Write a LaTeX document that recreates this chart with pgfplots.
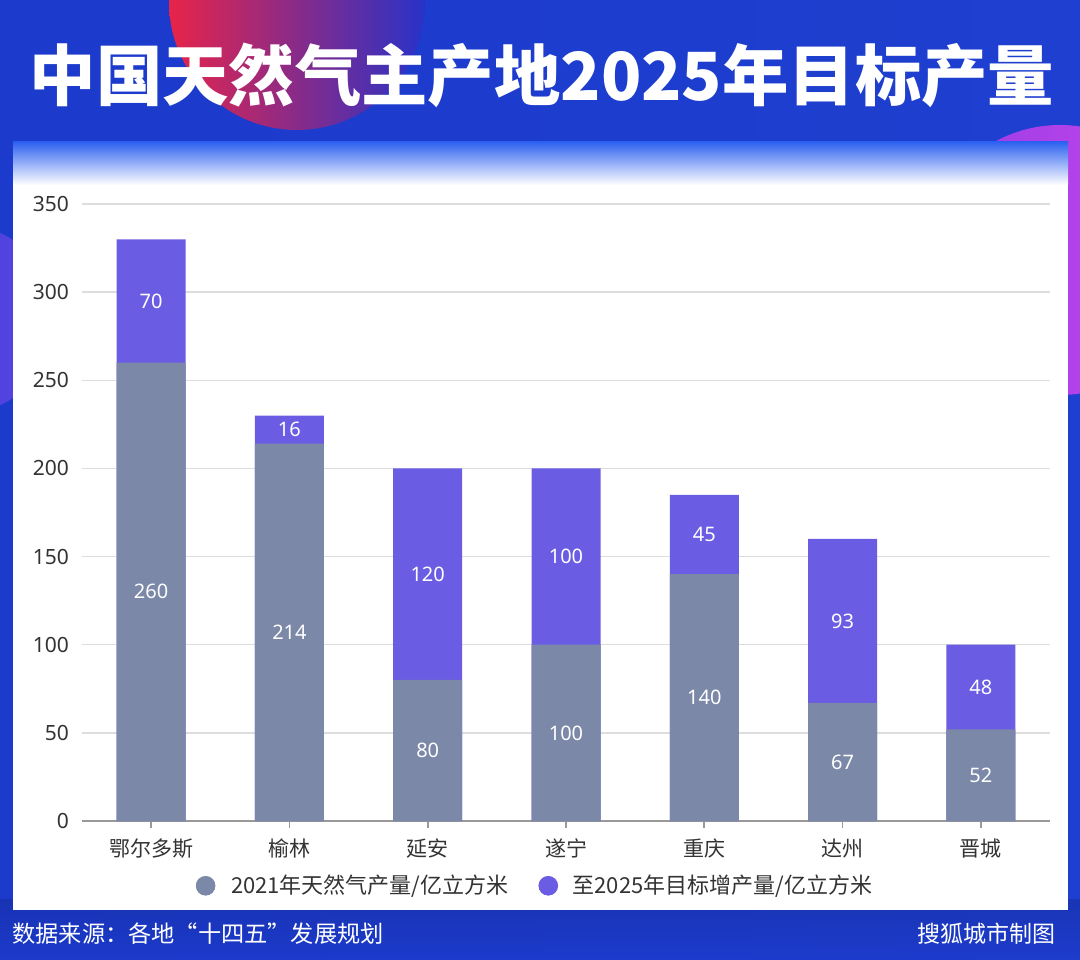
\documentclass[border=0pt]{standalone}
\usepackage{fontspec}
\setmainfont{Noto Sans CJK SC}
\newfontfamily\numfont{Noto Sans}
\usepackage{pgfplots}
\pgfplotsset{compat=1.18}
\usepackage{pgfplotstable}
\definecolor{barA}{HTML}{7B88A8}
\definecolor{barB}{HTML}{6A5CE3}
\definecolor{gridc}{HTML}{DDDDDD}
\definecolor{txt}{HTML}{333333}
\definecolor{bgL}{HTML}{1C3ACC}
\definecolor{bgM}{HTML}{2A5FEA}
\definecolor{bgR}{HTML}{1E3FCF}
\definecolor{panelTop}{HTML}{2E62F0}
\pgfplotstableread{
x base add total
0 260 70 330
1 214 16 230
2 80 120 200
3 100 100 200
4 140 45 185
5 67 93 160
6 52 48 100
}\data
\begin{document}
\begin{tikzpicture}[x=0.5pt,y=0.5pt]
\useasboundingbox (0,0) rectangle (1080,959);
\begin{scope}
\clip (0,0) rectangle (1080,959);
\shade[left color=bgL, middle color=bgM, right color=bgR] (0,0) rectangle (1080,959);
\shade[top color=bgL!80!black, bottom color=bgL, opacity=0.6] (0,0) rectangle (1080,60);
\shade[left color={rgb,255:red,232;green,36;blue,74}, right color={rgb,255:red,40;green,50;blue,200}] (297,957) circle (128);
\shade[left color={rgb,255:red,150;green,60;blue,230}, right color={rgb,255:red,200;green,70;blue,235}] (1060,699) circle (135);
\shade[left color={rgb,255:red,60;green,60;blue,215}, right color={rgb,255:red,90;green,70;blue,225}] (-40,640) circle (95);
\end{scope}
\fill[white] (13,49) rectangle (1068,817);
\shade[top color=panelTop, bottom color=white] (13,774) rectangle (1068,817);
\node[white, inner sep=0pt] at (542,884) {\resizebox{512pt}{!}{\bfseries 中国天然气主产地2025年目标产量}};
\node[white, anchor=west, inner sep=0pt, font=\fontsize{11.6}{13}\selectfont] at (12,25) {数据来源：各地“十四五”发展规划};
\node[white, anchor=east, inner sep=0pt, font=\fontsize{11.5}{13}\selectfont] at (1056,25) {搜狐城市制图};
\begin{axis}[
  at={(41pt,69pt)}, anchor=south west, scale only axis,
  width=484pt, height=308.5pt,
  xmin=-0.5, xmax=6.5, ymin=0, ymax=350,
  ytick={0,50,...,350},
  xtick={0,...,6},
  xticklabels={鄂尔多斯,榆林,延安,遂宁,重庆,达州,晋城},
  separate axis lines,
  axis x line*=bottom, axis y line*=left,
  y axis line style={draw=none},
  x axis line style={draw=gray!80, line width=0.8pt, -},
  ytick style={draw=none},
  xtick style={draw=gray!80, line width=0.8pt},
  xtick align=outside, major tick length=3.5pt,
  ymajorgrids, grid style={gridc, line width=0.7pt},
  /pgf/number format/assume math mode=true,
  yticklabel style={font=\numfont\fontsize{10.5}{12}\selectfont, text=txt, xshift=-3pt},
  xticklabel style={font=\fontsize{10.5}{12}\selectfont, text=txt, yshift=-2pt},
  legend style={at={(0.469,-0.105)}, anchor=center, draw=none, fill=none,
    font=\fontsize{11}{13}\selectfont, text=txt,
    /tikz/every even column/.append style={column sep=13pt}},
  legend columns=2,
  legend cell align=left,
  nodes near coords style={text=white, anchor=center, font=\numfont\fontsize{10}{12}\selectfont},
]
\addplot[ybar, bar width=34.5pt, bar shift=0pt, fill=barB, draw=none, forget plot] table[x=x,y=total]{\data};
\addplot[ybar, bar width=34.5pt, bar shift=0pt, fill=barA, draw=none, forget plot] table[x=x,y=base]{\data};
\addplot[draw=none, mark=none, nodes near coords, point meta=explicit, forget plot] table[x=x, y expr=\thisrow{base}/2, meta=base]{\data};
\addplot[draw=none, mark=none, nodes near coords, point meta=explicit, forget plot] table[x=x, y expr=\thisrow{base}+\thisrow{add}/2, meta=add]{\data};
\addlegendimage{legend image code/.code={\fill[barA] (0pt,0pt) circle (4.7pt); \path (10.5pt,0pt);}}
\addlegendentry{2021年天然气产量/亿立方米}
\addlegendimage{legend image code/.code={\fill[barB] (0pt,0pt) circle (4.7pt); \path (10pt,0pt);}}
\addlegendentry{至2025年目标增产量/亿立方米}
\end{axis}
\end{tikzpicture}
\end{document}
